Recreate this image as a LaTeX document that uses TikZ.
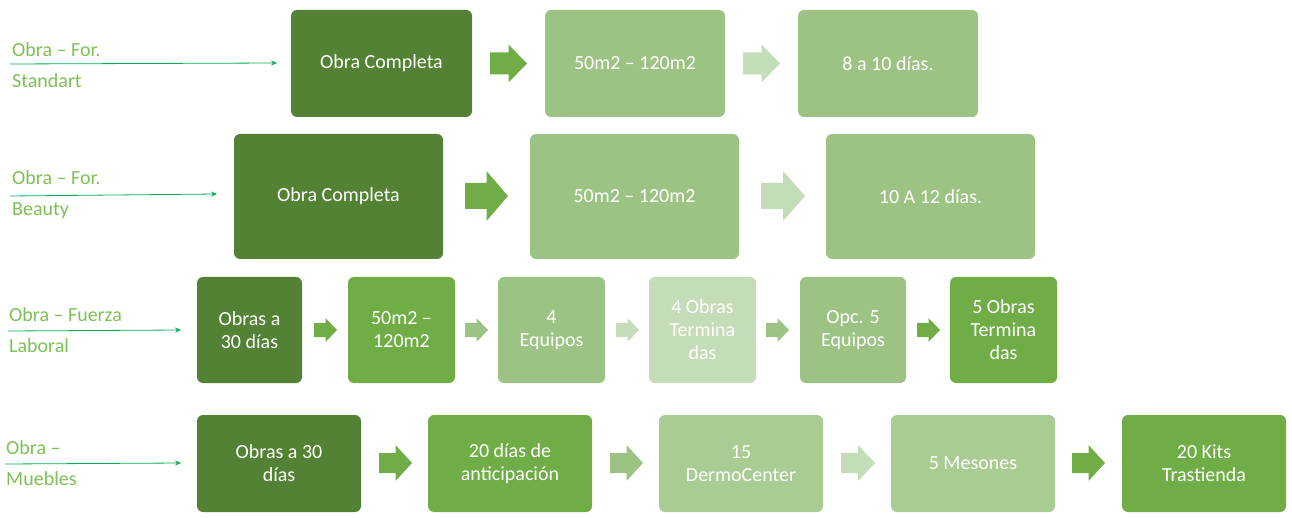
\documentclass[tikz,border=0pt]{standalone}
\usepackage{fontspec}
\setmainfont{Carlito}
\usetikzlibrary{arrows.meta}
\definecolor{dk}{HTML}{548235}
\definecolor{md}{HTML}{70AD47}
\definecolor{lt}{HTML}{9DC384}
\definecolor{lt2}{HTML}{A9CC92}
\definecolor{vl}{HTML}{C5DCB8}
\definecolor{lab}{HTML}{7CC152}
\definecolor{ln}{HTML}{00B050}
\tikzset{
 box/.style={rounded corners=6pt,text=white,align=center,font=\fontsize{20}{23}\selectfont,inner sep=0pt},
 lbl/.style={anchor=west,text=lab,align=left,font=\fontsize{20}{31}\selectfont,inner sep=0pt},
 con/.style={ln,line width=0.8pt,-{Stealth[length=6pt,width=5pt]}}
}
\newcommand{\barrow}[6]{% x1 x2 yc shaft head color
 \fill[#6] (#1,#3-#4) -- ({#1+(#2-#1)*0.5},#3-#4) -- ({#1+(#2-#1)*0.5},#3-#5) -- (#2,#3) -- ({#1+(#2-#1)*0.5},#3+#5) -- ({#1+(#2-#1)*0.5},#3+#4) -- (#1,#3+#4) -- cycle;}
\newcommand{\bx}[7]{\fill[#6,rounded corners=6pt] (#1,#2) rectangle (#3,#4); \node[box] (#7) at ({(#1+#3)/2},{(#2+#4)/2}) {#5};}
\begin{document}
\begin{tikzpicture}[x=1pt,y=-1pt]
\useasboundingbox (0,0) rectangle (1292,518);
% row 1
\bx{291}{10}{472}{117}{Obra Completa}{dk}{a1}
\bx{545}{10}{725}{117}{50m2 – 120m2}{lt}{a2}
\bx{798}{10}{978}{117}{8 a 10 días.}{lt}{a3}
\barrow{490}{527}{63.5}{11}{19}{md}
\barrow{743}{780}{63.5}{11}{19}{vl}
\node[lbl] (l1) at (12,65) {Obra – For.\\Standart};
\coordinate (s1) at (10,64); \coordinate (e1) at (277,63);
\draw[con] (s1) -- (e1);
% row 2
\bx{234}{134}{443}{259}{Obra Completa}{dk}{b1}
\bx{530}{134}{739}{259}{50m2 – 120m2}{lt}{b2}
\bx{826}{134}{1035}{259}{10 A 12 días.}{lt}{b3}
\barrow{465}{508}{196}{13}{25}{md}
\barrow{761}{805}{196}{13}{25}{vl}
\node[lbl] (l2) at (12,195) {Obra – For.\\Beauty};
\coordinate (s2) at (10,196); \coordinate (e2) at (217,194);
\draw[con] (s2) -- (e2);
% row 3
\bx{197}{277}{302}{383}{Obras a\\30 días}{dk}{c1}
\bx{348}{277}{455}{383}{50m2 –\\120m2}{md}{c2}
\bx{498}{277}{605}{383}{4\\Equipos}{lt}{c3}
\bx{649}{277}{756}{383}{4 Obras\\Termina\\das}{vl}{c4}
\bx{800}{277}{906}{383}{Opc. 5\\Equipos}{lt}{c5}
\bx{950}{277}{1057}{383}{5 Obras\\Termina\\das}{md}{c6}
\barrow{314}{337}{330}{7}{12}{md}
\barrow{465}{488}{330}{7}{12}{lt}
\barrow{616}{639}{330}{7}{12}{vl}
\barrow{766}{789}{330}{7}{12}{lt}
\barrow{917}{940}{330}{7}{12}{md}
\node[lbl] (l3) at (9,330) {Obra – Fuerza\\Laboral};
\coordinate (s3) at (8,331); \coordinate (e3) at (181,330);
\draw[con] (s3) -- (e3);
% row 4
\bx{197}{415}{361}{512}{Obras a 30\\días}{dk}{d1}
\bx{428}{415}{592}{512}{20 días de\\anticipación}{md}{d2}
\bx{659}{415}{823}{512}{15\\DermoCenter}{lt2}{d3}
\bx{891}{415}{1055}{512}{5 Mesones}{lt2}{d4}
\bx{1122}{415}{1286}{512}{20 Kits\\Trastienda}{md}{d5}
\barrow{379}{412}{463}{10}{18}{md}
\barrow{610}{643}{463}{10}{18}{lt}
\barrow{841}{875}{463}{10}{18}{vl}
\barrow{1072}{1105}{463}{10}{18}{md}
\node[lbl] (l4) at (6,463) {Obra –\\Muebles};
\coordinate (s4) at (5,464); \coordinate (e4) at (181,463);
\draw[con] (s4) -- (e4);
\end{tikzpicture}
\end{document}
